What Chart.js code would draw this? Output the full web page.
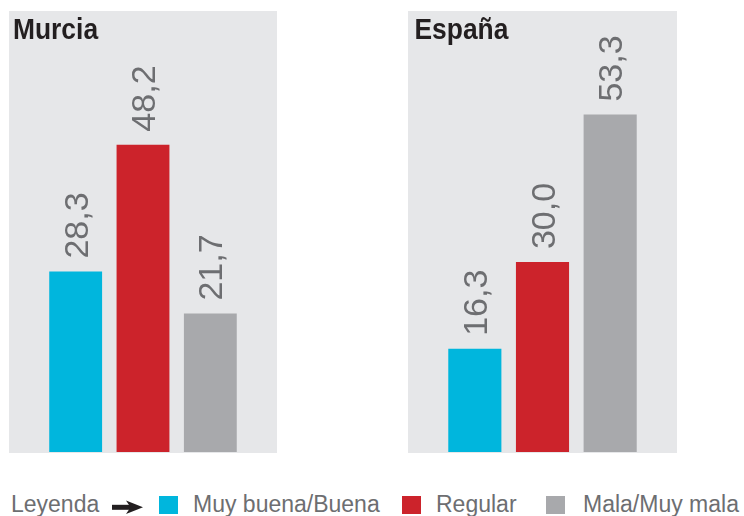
<!DOCTYPE html>
<html>
<head>
<meta charset="utf-8">
<script src="https://cdn.jsdelivr.net/npm/chart.js@4"></script>
<style>
  html, body { margin: 0; padding: 0; background: #ffffff; }
  body { width: 744px; height: 516px; position: relative; overflow: hidden; font-family: "Liberation Sans", Arial, sans-serif; }
  canvas { position: absolute; }
  .lg { position: absolute; top: 493px; font-size: 23px; line-height: 23px; color: #6d6e71; white-space: nowrap; }
  .sq { position: absolute; top: 496px; width: 19px; height: 18px; }
</style>
</head>
<body>
<canvas id="c1" width="268" height="442" style="left:9px;top:11px;width:268px;height:442px"></canvas>
<canvas id="c2" width="269" height="442" style="left:408px;top:11px;width:269px;height:442px"></canvas>

<div class="lg" style="left:11px">Leyenda</div>
<svg style="position:absolute;left:108px;top:498px" width="40" height="18" viewBox="0 0 40 18">
  <rect x="4" y="6.8" width="22" height="5" fill="#231f20"/>
  <polygon points="18,2.5 35,9.3 18,16 22.5,9.3" fill="#231f20"/>
</svg>
<div class="sq" style="left:159px;background:#00b6dd"></div>
<div class="lg" style="left:193px">Muy buena/Buena</div>
<div class="sq" style="left:402px;background:#cc232b"></div>
<div class="lg" style="left:436px">Regular</div>
<div class="sq" style="left:546px;background:#a8a9ac"></div>
<div class="lg" style="left:583px">Mala/Muy mala</div>

<script>
const categories = ['Muy buena/Buena', 'Regular', 'Mala/Muy mala'];
const murciaValues = [28.3, 48.2, 21.7];
const espanaValues = [16.3, 30.0, 53.3];
const panelTitles = ['Murcia', 'España'];
const barColors = ['#00b6dd', '#cc232b', '#a8a9ac'];

function fmt(v) { return v.toFixed(1).replace('.', ','); }

const panelPlugin = {
  id: 'panelPlugin',
  beforeDraw(chart) {
    const ctx = chart.ctx;
    ctx.save();
    ctx.fillStyle = '#e6e7e9';
    ctx.fillRect(0, 0, chart.width, chart.height);
    ctx.restore();
  },
  afterDatasetsDraw(chart) {
    const ctx = chart.ctx;
    const opts = chart.options.plugins.panelPlugin;
    const meta = chart.getDatasetMeta(0);
    const data = chart.data.datasets[0].data;
    ctx.save();
    ctx.fillStyle = '#6d6e71';
    ctx.font = '34px "Liberation Sans", Arial, sans-serif';
    ctx.textAlign = 'left';
    ctx.textBaseline = 'alphabetic';
    meta.data.forEach((el, i) => {
      ctx.save();
      ctx.translate(el.x + 12, el.y - 13);
      ctx.rotate(-Math.PI / 2);
      ctx.fillText(fmt(data[i]), 0, 0);
      ctx.restore();
    });
    ctx.restore();
    // title
    ctx.save();
    ctx.fillStyle = '#231f20';
    ctx.font = 'bold 29px "Liberation Sans", Arial, sans-serif';
    ctx.translate(opts.titleX, 28);
    ctx.scale(0.91, 1);
    ctx.fillText(opts.title, 0, 0);
    ctx.restore();
  }
};

function makeChart(id, values, title, titleX, yMax) {
  return new Chart(document.getElementById(id), {
    type: 'bar',
    data: {
      labels: categories,
      datasets: [{
        data: values,
        backgroundColor: barColors,
        borderWidth: 0,
        barPercentage: 0.785,
        categoryPercentage: 1
      }]
    },
    options: {
      responsive: false,
      animation: false,
      devicePixelRatio: 1,
      layout: { padding: { left: 33, right: 33, top: 1, bottom: 1 } },
      scales: {
        x: { display: false },
        y: { display: false, min: 0, max: yMax }
      },
      plugins: {
        legend: { display: false },
        tooltip: { enabled: false },
        panelPlugin: { title: title, titleX: titleX }
      }
    },
    plugins: [panelPlugin]
  });
}

makeChart('c1', murciaValues, panelTitles[0], 4, 69);
makeChart('c2', espanaValues, panelTitles[1], 6.5, 69.5);
</script>
</body>
</html>
